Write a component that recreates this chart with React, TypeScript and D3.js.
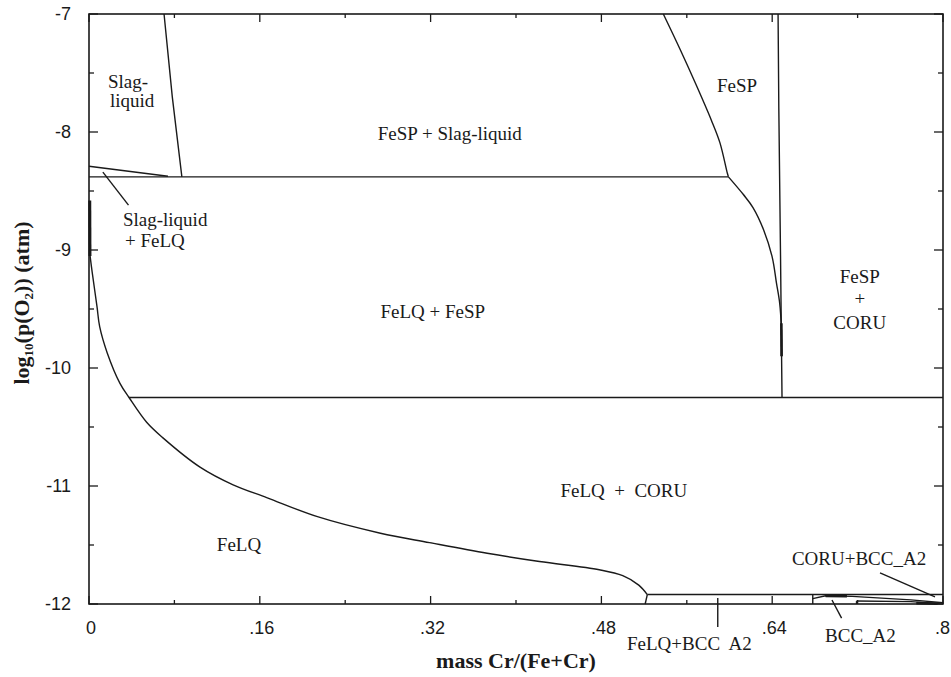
import * as d3 from 'd3';

type Pt = [number, number];

// x ticks (mass fraction) and y ticks (log10 pO2)
const xMajorTicks = [0, 0.16, 0.32, 0.48, 0.64, 0.8];
const xTickLabels = ['0', '.16', '.32', '.48', '.64', '.8'];
const xMinorTicks = [0.08, 0.24, 0.4, 0.56, 0.72];
const yMajorTicks = [-7, -8, -9, -10, -11, -12];
const yMinorTicks = [-7.5, -8.5, -9.5, -10.5, -11.5];

// phase boundaries
const slagBoundary: Pt[] = [[0.0703, -7], [0.078, -7.7], [0.087, -8.38]];
const slagFeLQBoundary: Pt[] = [[0, -8.29], [0.074, -8.375]];
const upperIsobar: Pt[] = [[0, -8.38], [0.599, -8.38]];
const lowerIsobar: Pt[] = [[0.0375, -10.25], [0.8, -10.25]];
const bottomIsobar: Pt[] = [[0.523, -11.92], [0.8, -11.92]];
const fespUpper: Pt[] = [
  [0.538, -7], [0.554, -7.305], [0.568, -7.585], [0.583, -7.9], [0.591, -8.09],
  [0.598, -8.35], [0.599, -8.38],
];
const fespLower: Pt[] = [
  [0.599, -8.38], [0.613, -8.53], [0.622, -8.64], [0.632, -8.83],
  [0.64, -9.06], [0.644, -9.28], [0.647, -9.45], [0.6485, -9.65], [0.6488, -9.9],
];
const coruBoundary: Pt[] = [[0.6455, -7], [0.6462, -7.8], [0.6478, -9.05], [0.6492, -10.25]];
const feLQEdge: Pt[] = [[0.0007, -8.58], [0.0009, -9.05]];
const feLQCurve: Pt[] = [
  [0.001, -9.05], [0.003, -9.19], [0.0075, -9.48], [0.01, -9.65], [0.017, -9.87],
  [0.029, -10.13], [0.0375, -10.25], [0.054, -10.46], [0.069, -10.59], [0.104, -10.84],
  [0.135, -10.99], [0.167, -11.1], [0.214, -11.26], [0.273, -11.4], [0.319, -11.48],
  [0.373, -11.57], [0.422, -11.64], [0.478, -11.71], [0.5, -11.76], [0.515, -11.84],
  [0.523, -11.92],
];
const feLQBccEdge: Pt[] = [[0.523, -11.92], [0.521, -12]];
const bccLeft: Pt[] = [[0.678, -11.92], [0.678, -12]];
const bccUpper: Pt[] = [[0.678, -11.955], [0.69, -11.93], [0.715, -11.935], [0.77, -11.965], [0.8, -11.99]];
const bccLower: Pt[] = [[0.719, -11.975], [0.77, -11.98], [0.797, -11.997]];
const bccStub: Pt[] = [[0.719, -11.975], [0.719, -12]];
const bccThick: Pt[][] = [
  [[0.69, -11.93], [0.71, -11.932]],
  [[0.775, -11.992], [0.795, -11.996]],
];

// label leader lines
const leaders: Pt[][] = [
  [[0.013, -8.34], [0.037, -8.62]],
  [[0.589, -11.95], [0.589, -12.195]],
  [[0.696, -11.966], [0.705, -12.12]],
  [[0.741, -11.737], [0.7925, -11.94]],
];

// region labels: text, x, y (baseline), anchor
const labels: [string, number, number, string][] = [
  ['Slag-', 0.0178, -7.627, 'start'],
  ['liquid', 0.0197, -7.788, 'start'],
  ['FeSP + Slag-liquid', 0.338, -8.068, 'middle'],
  ['FeSP', 0.607, -7.661, 'middle'],
  ['Slag-liquid', 0.0318, -8.797, 'start'],
  ['+ FeLQ', 0.0337, -8.975, 'start'],
  ['FeSP', 0.722, -9.28, 'middle'],
  ['+', 0.722, -9.466, 'middle'],
  ['CORU', 0.722, -9.669, 'middle'],
  ['FeLQ + FeSP', 0.322, -9.576, 'middle'],
  ['FeLQ  +  CORU', 0.501, -11.09, 'middle'],
  ['FeLQ', 0.1405, -11.55, 'middle'],
  ['CORU+BCC_A2', 0.6585, -11.67, 'start'],
  ['BCC_A2', 0.6895, -12.32, 'start'],
  ['FeLQ+BCC  A2', 0.504, -12.39, 'start'],
];

const W = 951;
const H = 677;
const left = 89;
const right = 943;
const top = 14;
const bottom = 604;
const ink = '#1a1a1a';
const serif = '"Liberation Serif", "Times New Roman", serif';
const sans = '"Liberation Sans", Arial, sans-serif';

export default function App() {
  const x = d3.scaleLinear().domain([0, 0.8]).range([left, right]);
  const y = d3.scaleLinear().domain([-12, -7]).range([bottom, top]);
  const line = d3.line<Pt>().x((d) => x(d[0])).y((d) => y(d[1]));
  const smooth = d3.line<Pt>().x((d) => x(d[0])).y((d) => y(d[1])).curve(d3.curveCatmullRom.alpha(0.5));

  const thin = [slagBoundary, slagFeLQBoundary, upperIsobar, lowerIsobar, bottomIsobar,
    coruBoundary, feLQBccEdge, bccLeft, bccUpper, bccLower, bccStub, ...leaders];

  return (
    <svg width={W} height={H} style={{ position: 'absolute', left: 0, top: 0, background: '#fff' }}>
      <rect x={0} y={0} width={W} height={H} fill="#fff" />
      <g fill="none" stroke={ink} strokeWidth={1.4}>
        {thin.map((d, i) => <path key={i} d={line(d) ?? ''} />)}
        <path d={smooth(fespUpper) ?? ''} />
        <path d={smooth(fespLower) ?? ''} />
        <path d={smooth(feLQCurve) ?? ''} />
        <path d={line(feLQEdge) ?? ''} strokeWidth={3} />
        <path d={line([[0.6486, -9.62], [0.6488, -9.9]]) ?? ''} strokeWidth={2.6} />
        {bccThick.map((d, i) => <path key={'t' + i} d={line(d) ?? ''} strokeWidth={2.8} />)}
      </g>
      {/* frame */}
      <rect x={left} y={top} width={right - left} height={bottom - top} fill="none" stroke={ink} strokeWidth={1.6} />
      <g stroke={ink} strokeWidth={1.3}>
        {xMajorTicks.map((t) => (
          <g key={'xm' + t}>
            <line x1={x(t)} x2={x(t)} y1={bottom} y2={bottom - 8} />
            <line x1={x(t)} x2={x(t)} y1={top} y2={top + 8} />
          </g>
        ))}
        {xMinorTicks.map((t) => (
          <g key={'xn' + t}>
            <line x1={x(t)} x2={x(t)} y1={bottom} y2={bottom - 4} />
            <line x1={x(t)} x2={x(t)} y1={top} y2={top + 4} />
          </g>
        ))}
        {yMajorTicks.map((t) => (
          <g key={'ym' + t}>
            <line x1={left} x2={left + 9} y1={y(t)} y2={y(t)} />
            <line x1={right} x2={right - 9} y1={y(t)} y2={y(t)} />
          </g>
        ))}
        {yMinorTicks.map((t) => (
          <g key={'yn' + t}>
            <line x1={left} x2={left + 5} y1={y(t)} y2={y(t)} />
            <line x1={right} x2={right - 5} y1={y(t)} y2={y(t)} />
          </g>
        ))}
      </g>
      <g fontFamily={sans} fontSize={18} fill={ink}>
        {xMajorTicks.map((t, i) => (
          <text key={'xl' + t} x={i === xMajorTicks.length - 1 ? W - 1 : x(t) + 2} y={bottom + 30}
            textAnchor={i === xMajorTicks.length - 1 ? 'end' : 'middle'}>{xTickLabels[i]}</text>
        ))}
        {yMajorTicks.map((t) => (
          <text key={'yl' + t} x={left - 18} y={y(t) + 6} textAnchor="end">{String(t)}</text>
        ))}
      </g>
      <g fontFamily={serif} fontSize={19} fill={ink}>
        {labels.map(([s, lx, ly, a], i) => (
          <text key={'l' + i} x={x(lx)} y={y(ly)} textAnchor={a} style={{ whiteSpace: 'pre' }}>{s}</text>
        ))}
      </g>
      <text x={(left + right) / 2} y={668} textAnchor="middle" fontFamily={serif} fontWeight="bold" fontSize={22} fill={ink}>
        mass Cr/(Fe+Cr)
      </text>
      <text transform={`translate(29, ${(top + bottom) / 2 - 6}) rotate(-90)`} textAnchor="middle"
        fontFamily={serif} fontWeight="bold" fontSize={22} fill={ink}>
        log<tspan fontSize={13} dy={4}>10</tspan><tspan dy={-4}>(p(O</tspan><tspan fontSize={13} dy={4}>2</tspan><tspan dy={-4}>)) (atm)</tspan>
      </text>
    </svg>
  );
}
